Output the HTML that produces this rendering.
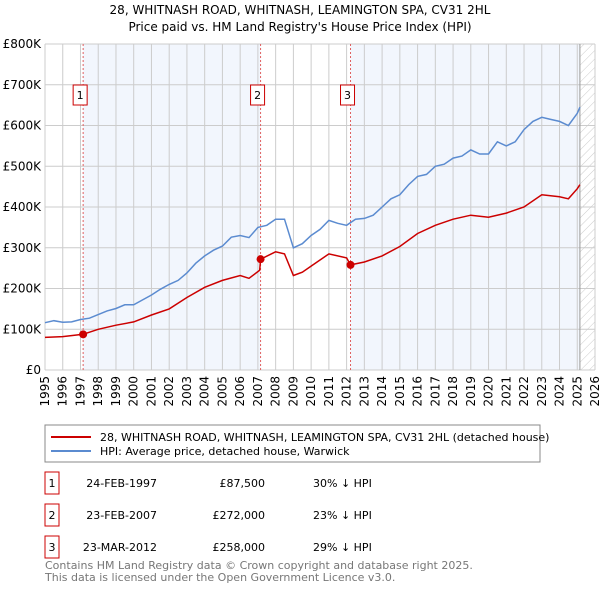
<!DOCTYPE html>
<html><head><meta charset="utf-8"><style>
body{margin:0;background:#fff;font-family:"DejaVu Sans","Liberation Sans",sans-serif;}
svg text{font-family:"DejaVu Sans","Liberation Sans",sans-serif;}
</style></head><body>
<svg id="c" width="600" height="590" viewBox="0 0 600 590" xmlns="http://www.w3.org/2000/svg">
<defs><pattern id="h" width="6" height="6" patternUnits="userSpaceOnUse" patternTransform="rotate(45)"><line x1="0" y1="0" x2="0" y2="6" stroke="#ccc" stroke-width="1"/></pattern></defs>
<text x="300" y="14" text-anchor="middle" font-size="12">28, WHITNASH ROAD, WHITNASH, LEAMINGTON SPA, CV31 2HL</text>
<text x="300" y="31" text-anchor="middle" font-size="12">Price paid vs. HM Land Registry's House Price Index (HPI)</text>
<g id="plot"></g>
<rect x="45" y="425" width="495" height="37" fill="#fff" stroke="#888"/>
<line x1="51" y1="437" x2="91" y2="437" stroke="#cc0000" stroke-width="2"/>
<text x="100" y="441" font-size="11">28, WHITNASH ROAD, WHITNASH, LEAMINGTON SPA, CV31 2HL (detached house)</text>
<line x1="51" y1="451" x2="91" y2="451" stroke="#5b8bd0" stroke-width="2"/>
<text x="100" y="455" font-size="11">HPI: Average price, detached house, Warwick</text>
<g id="tbl" font-size="11"></g>
<text x="45" y="569" font-size="11" fill="#777">Contains HM Land Registry data © Crown copyright and database right 2025.</text>
<text x="45" y="581" font-size="11" fill="#777">This data is licensed under the Open Government Licence v3.0.</text>
</svg>
<script>
const hpiYears=[1995,1995.5,1996,1996.5,1997,1997.5,1998,1998.5,1999,1999.5,2000,2000.5,2001,2001.5,2002,2002.5,2003,2003.5,2004,2004.5,2005,2005.5,2006,2006.5,2007,2007.5,2008,2008.5,2009,2009.5,2010,2010.5,2011,2011.5,2012,2012.5,2013,2013.5,2014,2014.5,2015,2015.5,2016,2016.5,2017,2017.5,2018,2018.5,2019,2019.5,2020,2020.5,2021,2021.5,2022,2022.5,2023,2023.5,2024,2024.5,2025,2025.15];
const hpiValues=[116,121,117,118,124,127,136,145,151,160,160,172,184,198,210,220,238,262,280,294,304,326,330,325,350,355,370,370,300,310,330,345,367,360,355,370,372,380,400,420,430,455,475,480,500,505,520,525,540,530,530,560,550,560,590,610,620,615,610,600,630,645];
const ppYears=[1995,1996,1997.15,1998,1999,2000,2001,2002,2003,2004,2005,2006,2006.5,2007.1,2007.15,2008,2008.5,2009,2009.5,2010,2011,2012,2012.22,2013,2014,2015,2016,2017,2018,2019,2020,2021,2022,2023,2024,2024.5,2025,2025.15];
const ppValues=[80,82,87.5,100,110,118,135,150,178,203,220,232,225,245,272,290,285,232,240,255,285,275,258,265,280,303,335,355,370,380,375,385,400,430,425,420,445,455];
const saleYears=[1997.15,2007.15,2012.22];
const saleValues=[87.5,272,258];
const saleLabels=["1","2","3"];
const saleDates=["24-FEB-1997","23-FEB-2007","23-MAR-2012"];
const salePrices=["£87,500","£272,000","£258,000"];
const salePct=["30% ↓ HPI","23% ↓ HPI","29% ↓ HPI"];
const yTicks=[0,100,200,300,400,500,600,700,800];
const yTickLabels=["£0","£100K","£200K","£300K","£400K","£500K","£600K","£700K","£800K"];
const endYear=2025.15;

const NS="http://www.w3.org/2000/svg";
const X0=45,X1=595,Y0=370,Y1=44;
const xs=y=>X0+(y-1995)/(2026-1995)*(X1-X0);
const ys=v=>Y0-v/800*(Y0-Y1);
const g=document.getElementById('plot');
function mk(t,a,p){const e=document.createElementNS(NS,t);for(const k in a)e.setAttribute(k,a[k]);(p||g).appendChild(e);return e;}
let r;
r=mk('rect',{x:xs(saleYears[0]),y:Y1,width:xs(saleYears[1])-xs(saleYears[0]),height:Y0-Y1,fill:'#f2f6fd'});


r=mk('rect',{x:xs(saleYears[2]),y:Y1,width:xs(endYear)-xs(saleYears[2]),height:Y0-Y1,fill:'#f2f6fd'});


r=mk('rect',{x:xs(endYear),y:Y1,width:X1-xs(endYear),height:Y0-Y1,fill:'url(#h)'});


for(let yr=1995;yr<=2026;yr++){
 const l=mk('line',{x1:xs(yr),x2:xs(yr),y1:Y1,y2:Y0,stroke:'#ccc','stroke-width':1});
 
 
 const t=mk('text',{x:0,y:0,'font-size':12,'text-anchor':'end',transform:`translate(${xs(yr)+4},${Y0+6}) rotate(-90)`});
 t.textContent=yr;
 
 
}
yTicks.forEach((v,i)=>{
 const l=mk('line',{x1:X0,x2:X1,y1:ys(v),y2:ys(v),stroke:'#ccc','stroke-width':1});
 
 
 const t=mk('text',{x:X0-4,y:ys(v)+4,'font-size':12,'text-anchor':'end'});
 t.textContent=yTickLabels[i];
 
 
});
r=mk('line',{x1:xs(endYear),x2:xs(endYear),y1:Y1,y2:Y0,stroke:'#999','stroke-width':1});


saleYears.forEach((yr,i)=>{
 const l=mk('line',{x1:xs(yr),x2:xs(yr),y1:Y1,y2:Y0,stroke:'#e06060','stroke-width':1,'stroke-dasharray':'2,2'});
 
 
 const b=mk('rect',{x:xs(yr)-10,y:85,width:14,height:20,fill:'#fff',stroke:'#cc0000'});
 
 
 const t=mk('text',{x:xs(yr)-3,y:99,'font-size':11,'text-anchor':'middle'});
 t.textContent=saleLabels[i];
 
 
});
const pts=(a,b)=>a.map((y,i)=>xs(y).toFixed(1)+','+ys(b[i]).toFixed(1)).join(' ');
r=mk('polyline',{points:pts(hpiYears,hpiValues),fill:'none',stroke:'#5b8bd0','stroke-width':1.5});


r=mk('polyline',{points:pts(ppYears,ppValues),fill:'none',stroke:'#cc0000','stroke-width':1.5});


saleYears.forEach((yr,i)=>{
 const c=mk('circle',{cx:xs(yr),cy:ys(saleValues[i]),r:4,fill:'#cc0000'});
 
 
});
const tb=document.getElementById('tbl');
saleYears.forEach((yr,i)=>{
 const y=482+i*32;
 const b=mk('rect',{x:45,y:y-10,width:14,height:22,fill:'#fff',stroke:'#cc0000'},tb);
 
 
 const cells=[[52,saleLabels[i],'middle','table-row-number'],[157,saleDates[i],'end','table-row-date'],[265,salePrices[i],'end','table-row-price'],[313,salePct[i],'start','table-row-hpi-diff']];
 cells.forEach(c=>{
  const t=mk('text',{x:c[0],y:y+5,'text-anchor':c[2]},tb);
  t.textContent=c[1];
  
  
 });
});
</script>
</body></html>
